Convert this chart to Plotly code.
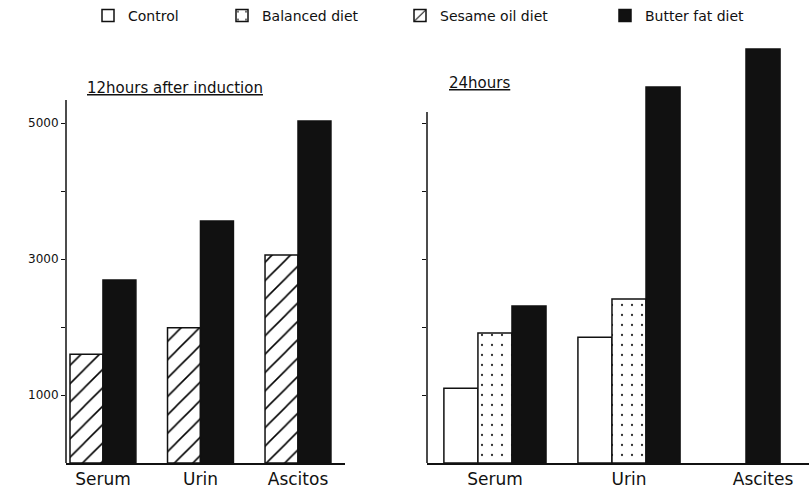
import plotly.graph_objects as go

# ---- data ----
categories_12h = ["Serum", "Urin", "Ascitos"]
sesame_12h = [1600, 1990, 3060]
butter_12h = [2690, 3560, 5030]

categories_24h = ["Serum", "Urin", "Ascites"]
control_24h = [1100, 1850, None]
balanced_24h = [1910, 2410, None]
butter_24h = [2310, 5530, 6090]

ytick_vals = [1000, 2000, 3000, 4000, 5000]
ytick_text_left = ["1000", "", "3000", "", "5000"]

FONT = "DejaVu Sans"
INK = "#111111"

fig = go.Figure()

wl = 0.338
wr = 0.254
edge = dict(color=INK, width=1.5)

# Left panel (12 hours)
fig.add_trace(go.Bar(
    x=categories_12h, y=sesame_12h, name="Sesame oil diet",
    width=wl, offset=-wl,
    marker=dict(color="white", line=edge,
                pattern=dict(shape="/", size=13, solidity=0.12, fgcolor="black",
                             fgopacity=1, bgcolor="white", fillmode="replace")),
    xaxis="x", yaxis="y", legend="legend3"))
fig.add_trace(go.Bar(
    x=categories_12h, y=butter_12h, name="Butter fat diet",
    width=wl, offset=0,
    marker=dict(color=INK, line=edge),
    xaxis="x", yaxis="y", legend="legend4"))

# Right panel (24 hours)
fig.add_trace(go.Bar(
    x=categories_24h, y=control_24h, name="Control",
    width=wr, offset=-1.5 * wr,
    marker=dict(color="white", line=edge),
    xaxis="x2", yaxis="y2", legend="legend"))
fig.add_trace(go.Bar(
    x=categories_24h, y=balanced_24h, name="Balanced diet",
    width=wr, offset=-0.5 * wr,
    marker=dict(color="white", line=edge,
                pattern=dict(shape=".", size=10, solidity=0.04, fgcolor="#333333",
                             fgopacity=1, bgcolor="white", fillmode="replace")),
    xaxis="x2", yaxis="y2", legend="legend2"))
fig.add_trace(go.Bar(
    x=categories_24h, y=butter_24h, name="Butter fat diet",
    width=wr, offset=[0.5 * wr, 0.5 * wr, -0.5 * wr],
    marker=dict(color=INK, line=edge),
    xaxis="x2", yaxis="y2", showlegend=False))

W, H = 809, 494
def px_x(p):
    return p / W
def px_y(p):
    return 1 - p / H

PPU = 0.068  # pixels per unit on value axes
base_px = 463
top_px = 20
yrange_top = (base_px - top_px) / PPU

axis_common = dict(showgrid=False, zeroline=False, automargin=False)

legend_common = dict(orientation="h", yanchor="top", xanchor="left", y=1.0,
                     font=dict(family=FONT, size=14, color=INK),
                     bgcolor="rgba(0,0,0,0)", itemwidth=30)

fig.update_layout(
    width=W, height=H,
    margin=dict(l=0, r=0, t=0, b=0),
    paper_bgcolor="white", plot_bgcolor="white",
    barmode="overlay",
    font=dict(family=FONT, color=INK),
    xaxis=dict(domain=[px_x(66), px_x(345)], range=[-0.379, 2.482], type="category",
               showline=True, linecolor=INK, linewidth=1.5,
               ticks="", tickfont=dict(size=17, color=INK), anchor="y", **axis_common),
    yaxis=dict(domain=[px_y(base_px), px_y(top_px)], range=[0, yrange_top], tickvals=ytick_vals,
               ticktext=ytick_text_left, ticks="outside", ticklen=4, tickcolor=INK, tickwidth=1.2,
               showline=False, tickfont=dict(size=12, color=INK), anchor="x", **axis_common),
    xaxis2=dict(domain=[px_x(427), px_x(809)], range=[-0.507, 2.343], type="category",
                showline=True, linecolor=INK, linewidth=1.5,
                ticks="", tickfont=dict(size=17, color=INK), anchor="y2", **axis_common),
    yaxis2=dict(domain=[px_y(base_px), px_y(top_px)], range=[0, yrange_top], tickvals=ytick_vals,
                ticktext=[""] * 5, ticks="outside", ticklen=4, tickcolor=INK, tickwidth=1.2,
                showline=False, anchor="x2", **axis_common),
    legend=dict(x=px_x(88), **legend_common),
    legend2=dict(x=px_x(222), **legend_common),
    legend3=dict(x=px_x(400), **legend_common),
    legend4=dict(x=px_x(605), **legend_common),
    shapes=[
        dict(type="line", xref="x domain", yref="y", x0=0, x1=0,
             y0=0, y1=(base_px - 100) / PPU, line=dict(color=INK, width=1.5)),
        dict(type="line", xref="x2 domain", yref="y2", x0=0, x1=0,
             y0=0, y1=(base_px - 112) / PPU, line=dict(color=INK, width=1.5)),
    ],
    annotations=[
        dict(text="<u>12hours after induction</u>", x=px_x(85), y=px_y(88),
             xref="paper", yref="paper", xanchor="left", yanchor="middle",
             showarrow=False, font=dict(family=FONT, size=15, color=INK)),
        dict(text="<u>24hours</u>", x=px_x(447), y=px_y(83),
             xref="paper", yref="paper", xanchor="left", yanchor="middle",
             showarrow=False, font=dict(family=FONT, size=15, color=INK)),
    ],
)

fig.write_html("out.html", config={"displayModeBar": False},
               post_script="document.body.style.margin='0';")
